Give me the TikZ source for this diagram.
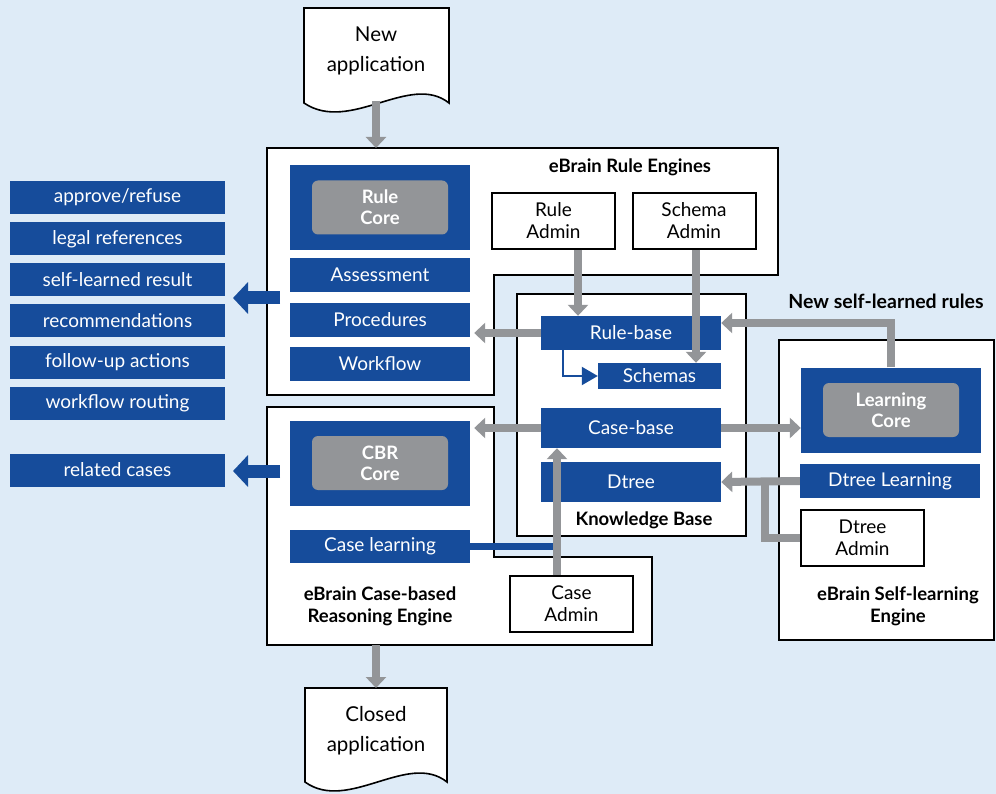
\documentclass[tikz,border=0pt]{standalone}
\usepackage{fontspec}
\setmainfont{Lato}
\usetikzlibrary{arrows.meta}
\definecolor{ebblue}{RGB}{22,76,155}
\definecolor{ebgray}{RGB}{147,149,152}
\definecolor{ebback}{RGB}{222,235,247}

\begin{document}
\begin{tikzpicture}[x=1pt,y=-1pt,
  every node/.style={font=\fontsize{19}{22}\selectfont},
  outbox/.style={fill=ebblue,text=white,inner sep=0pt,minimum width=215pt,minimum height=33pt},
  bluebox/.style={fill=ebblue,text=white,inner sep=0pt,minimum width=180pt,minimum height=34pt},
  corebox/.style={fill=ebblue,inner sep=0pt,minimum width=180pt,minimum height=85pt},
  coreinner/.style={fill=ebgray,rounded corners=6pt,text=white,align=center,inner sep=0pt,
    minimum width=136pt,minimum height=54pt,font=\fontsize{18.5}{21}\selectfont\bfseries},
  adminbox/.style={draw=black,line width=2pt,fill=white,align=center,inner sep=0pt,
    minimum width=123pt,minimum height=56pt},
  frame/.style={draw=black,line width=2.2pt,fill=white},
  ttl/.style={align=center,font=\fontsize{18.5}{22}\selectfont\bfseries},
  flow/.style={draw=ebgray,line width=8pt,-{Triangle[length=11pt,width=20pt]}},
  gline/.style={draw=ebgray,line width=8pt},
  outarrow/.style={draw=ebblue,line width=13pt,-{Triangle[length=15pt,width=31pt]}},
  thinflow/.style={draw=ebblue,line width=2pt,-{Triangle[length=16pt,width=18pt]}}]
% background
\clip (0,0) rectangle (996,794);
\fill [ebback] (0,0) rectangle (996,794);

% documents
\fill [white,draw=black,line width=1.6pt] (304,8) -- (449,8) -- (449,103)
  .. controls (410,72) and (350,134) .. (304,103) -- cycle;
\node [align=center,font=\fontsize{20.5}{30}\selectfont] (newapp) at (376,51) {New\\application};
\coordinate (newappout) at (376,101);
\fill [white,draw=black,line width=1.6pt] (305,688) -- (447,688) -- (447,782)
  .. controls (408,751) and (348,813) .. (305,782) -- cycle;
\node [align=center,font=\fontsize{20.5}{30}\selectfont] (closedapp) at (376,731) {Closed\\application};
\coordinate (closedappin) at (376,688);

% engine frames
\draw [frame] (267,148) -- (778,148) -- (778,275) -- (494,275) -- (494,395) -- (267,395) -- cycle;
\draw [frame] (517,294) rectangle (746,536);
\draw [frame] (267,407) -- (494,407) -- (494,557) -- (652,557) -- (652,645) -- (267,645) -- cycle;
\draw [frame] (779,340) rectangle (994,640);
\coordinate (rulestop) at (376,148);
\coordinate (cbrbottom) at (376,645);

\node [ttl] (rulettl) at (630,167) {eBrain Rule Engines};
\node [ttl] (kbttl) at (644,520) {Knowledge Base};
\node [ttl] (cbrttl) at (380,606) {eBrain Case-based\\Reasoning Engine};
\node [ttl] (slttl) at (898,606) {eBrain Self-learning\\Engine};
\node [ttl,font=\fontsize{19.5}{22}\selectfont\bfseries] (newrules) at (886,301) {New self-learned rules};

% outputs
\node [outbox] (approve) at (117.5,197.5) {approve/refuse};
\node [outbox] (legal) at (117.5,239) {legal references};
\node [outbox] (selfres) at (117.5,280) {self-learned result};
\node [outbox] (recomm) at (117.5,321) {recommendations};
\node [outbox] (followup) at (117.5,362) {follow-up actions};
\node [outbox] (routing) at (117.5,403) {workflow routing};
\node [outbox] (related) at (117.5,470) {related cases};

% rule engines
\node [corebox] (rulecore) at (380,207.5) {};
\node [coreinner] at (rulecore) {Rule\\Core};
\node [bluebox] (assess) at (380,275) {Assessment};
\node [bluebox] (proc) at (380,320) {Procedures};
\node [bluebox] (workflow) at (380,364) {Workflow};
\node [adminbox] (ruleadmin) at (553.5,221) {Rule\\Admin};
\node [adminbox] (schemaadmin) at (694,221) {Schema\\Admin};

% knowledge base
\node [bluebox] (rulebase) at (631,333) {Rule-base};
\node [bluebox,minimum width=123pt,minimum height=26pt] (schemas) at (659.5,376) {Schemas};
\node [bluebox,minimum height=40pt] (casebase) at (631,428) {Case-base};
\node [bluebox,minimum height=40pt] (dtree) at (631,482) {Dtree};

% case-based reasoning
\node [corebox] (cbrcore) at (380,463) {};
\node [coreinner] at (cbrcore) {CBR\\Core};
\node [bluebox,minimum height=33pt] (caselearn) at (380,546) {Case learning};
\node [adminbox] (caseadmin) at (571.5,604) {Case\\Admin};

% self-learning
\node [corebox] (lcore) at (891,410) {};
\node [coreinner] at (lcore) {Learning\\Core};
\node [bluebox] (dlearn) at (890,481) {Dtree Learning};
\node [adminbox] (dadmin) at (862.5,537.5) {Dtree\\Admin};

% connectors
\draw [flow] (newappout) -- (rulestop);
\draw [flow] (cbrbottom) -- (closedappin);
\coordinate (rulesout) at (280,298);
\coordinate (rulesoutend) at (233,298);
\coordinate (cbrout) at (280,471);
\coordinate (cbroutend) at (233,471);
\draw [outarrow] (rulesout) -- (rulesoutend);
\draw [outarrow] (cbrout) -- (cbroutend);

\coordinate (ruleadm) at (578,0);
\coordinate (schemaadm) at (696,0);
\draw [flow] (ruleadmin.south -| ruleadm) -- (rulebase.north -| ruleadm);
\draw [flow] (schemaadmin.south -| schemaadm) -- (schemas.north -| schemaadm);
\draw [flow] (rulebase.west) -- ([xshift=4pt]proc.east |- rulebase.west);
\draw [thinflow] ([xshift=-68pt]rulebase.south) |- (schemas.west);
\draw [flow] (casebase.west) -- ([xshift=4pt]cbrcore.east |- casebase.west);
\draw [flow] (casebase.east) -- (lcore.west |- casebase.east);
\draw [flow] (lcore.north) |- ([yshift=10pt]rulebase.east);
\coordinate (djoin) at (765,481);
\draw [gline] (dadmin.west) -| (djoin);
\draw [flow] (dlearn.west) -- (dtree.east);
\coordinate (cjoin) at (557,546);
\draw [draw=ebblue,line width=7pt] (caselearn.east) -- (cjoin);
\draw [flow] (caseadmin.north -| cjoin) -- (casebase.south -| cjoin);
\end{tikzpicture}
\end{document}
